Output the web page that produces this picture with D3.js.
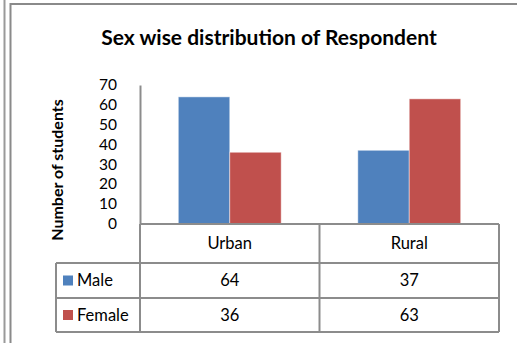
<!DOCTYPE html>
<html>
<head>
<meta charset="utf-8">
<script src="https://cdn.jsdelivr.net/npm/d3@7"></script>
<style>
  html, body { margin: 0; padding: 0; background: #fff; }
  svg { display: block; font-family: Lato, "Open Sans", sans-serif; }
</style>
</head>
<body>
<svg id="chart" width="517" height="343"></svg>
<script>
// Respondents by area and sex
const areas = ["Urban", "Rural"];
const sexes = ["Male", "Female"];
const maleCounts = [64, 37];
const femaleCounts = [36, 63];
const yTicks = [0, 10, 20, 30, 40, 50, 60, 70];
const colors = { Male: "#4F81BD", Female: "#C0504D" };
const title = "Sex wise distribution of Respondent";
const yTitle = "Number of students";

const seriesValues = { Male: maleCounts, Female: femaleCounts };

const svg = d3.select("#chart");
const gridColor = "#8c8c8c";

// page frame: double rule on the left, single rule along the top
svg.append("line").attr("x1", 4.5).attr("x2", 4.5).attr("y1", 0).attr("y2", 343)
  .attr("stroke", "#9a9a9a").attr("stroke-width", 2);
svg.append("line").attr("x1", 10.5).attr("x2", 10.5).attr("y1", 3).attr("y2", 343)
  .attr("stroke", "#8a8a8a").attr("stroke-width", 2);
svg.append("line").attr("x1", 10).attr("x2", 517).attr("y1", 4).attr("y2", 4)
  .attr("stroke", "#8a8a8a").attr("stroke-width", 2);

// scales
const x0 = d3.scaleBand().domain(areas).range([140, 499]).paddingInner(0).paddingOuter(0);
const x1 = d3.scaleBand().domain(sexes).range([0, x0.bandwidth()]).paddingInner(0).paddingOuter(0.745);
const y = d3.scaleLinear().domain([0, 70]).range([223.5, 85]);

// title
svg.append("text")
  .attr("x", 269).attr("y", 45)
  .attr("text-anchor", "middle")
  .attr("font-size", 21).attr("font-weight", "bold").attr("fill", "#000")
  .text(title);

// bars
const groups = svg.append("g").selectAll("g")
  .data(areas).join("g")
  .attr("transform", d => `translate(${x0(d)},0)`);

groups.selectAll("rect")
  .data((a, i) => sexes.map(s => ({ sex: s, value: seriesValues[s][i] })))
  .join("rect")
  .attr("x", d => x1(d.sex))
  .attr("width", x1.bandwidth())
  .attr("y", d => y(d.value))
  .attr("height", d => y(0) - y(d.value))
  .attr("fill", d => colors[d.sex])
  .attr("stroke", "rgba(255,255,255,0.45)")
  .attr("stroke-width", 1);

// value axis
const yAxis = svg.append("g")
  .attr("transform", "translate(140,0)")
  .call(d3.axisLeft(y).tickValues(yTicks).tickSize(0).tickSizeOuter(0).tickPadding(23));
yAxis.select(".domain").attr("stroke", gridColor).attr("stroke-width", 2);
yAxis.selectAll("text")
  .attr("font-family", "Lato, 'Open Sans', sans-serif")
  .attr("font-size", 15.5).attr("fill", "#000");

// axis title
svg.append("text")
  .attr("transform", "translate(63,170) rotate(-90)")
  .attr("text-anchor", "middle")
  .attr("font-size", 16).attr("font-weight", "bold").attr("fill", "#000")
  .text(yTitle);

// data table
const rowY = [224, 263, 298, 332];
const legendLeft = 56;
const tableRight = 499;
const table = svg.append("g").attr("fill", "none").attr("stroke", gridColor).attr("stroke-width", 2);

// horizontal rules
table.append("line").attr("x1", 140).attr("x2", tableRight).attr("y1", rowY[0]).attr("y2", rowY[0]);
rowY.slice(1).forEach(yy => {
  table.append("line").attr("x1", legendLeft).attr("x2", tableRight).attr("y1", yy).attr("y2", yy);
});
// vertical rules
table.append("line").attr("x1", legendLeft).attr("x2", legendLeft).attr("y1", rowY[1]).attr("y2", rowY[3]);
table.append("line").attr("x1", 140).attr("x2", 140).attr("y1", rowY[0]).attr("y2", rowY[3]);
areas.forEach(a => {
  const xr = x0(a) + x0.bandwidth();
  table.append("line").attr("x1", xr).attr("x2", xr).attr("y1", rowY[0]).attr("y2", rowY[3]);
});

const cellText = svg.append("g").attr("font-size", 16.5).attr("fill", "#000");

// category header row
cellText.selectAll("text.cat")
  .data(areas).join("text")
  .attr("class", "cat")
  .attr("x", d => x0(d) + x0.bandwidth() / 2)
  .attr("y", (rowY[0] + rowY[1]) / 2)
  .attr("dy", "0.35em")
  .attr("text-anchor", "middle")
  .text(d => d);

// series rows
sexes.forEach((s, r) => {
  const cy = (rowY[r + 1] + rowY[r + 2]) / 2;
  svg.append("rect")
    .attr("x", 63).attr("y", cy - 5).attr("width", 10).attr("height", 10)
    .attr("fill", colors[s]);
  cellText.append("text")
    .attr("x", 77).attr("y", cy).attr("dy", "0.35em")
    .text(s);
  cellText.selectAll(null)
    .data(areas).join("text")
    .attr("x", d => x0(d) + x0.bandwidth() / 2)
    .attr("y", cy).attr("dy", "0.35em")
    .attr("text-anchor", "middle")
    .text((d, i) => seriesValues[s][i]);
});
</script>
</body>
</html>
